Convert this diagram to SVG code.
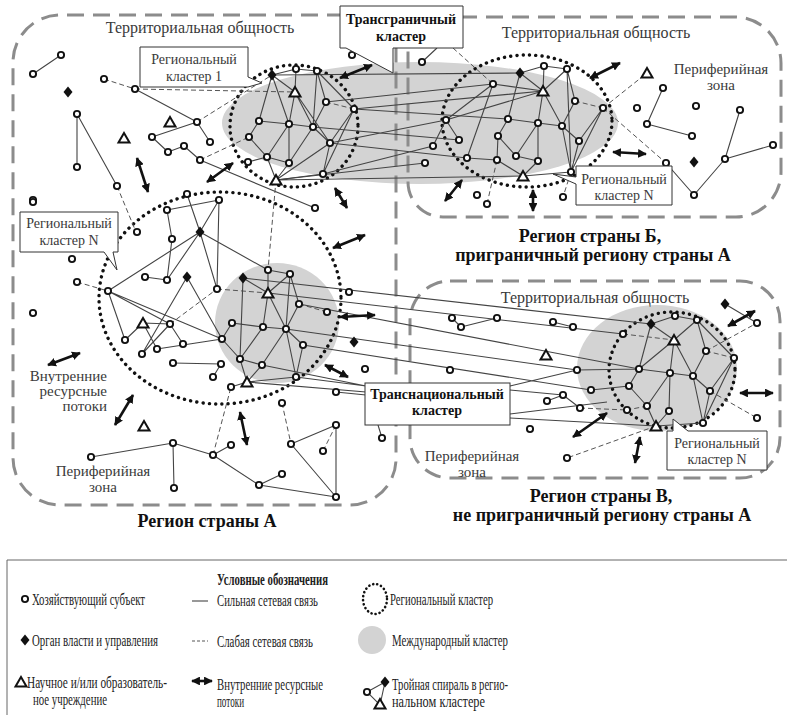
<svg xmlns="http://www.w3.org/2000/svg" width="787" height="715" viewBox="0 0 787 715" font-family="'Liberation Serif', 'Times New Roman', 'DejaVu Serif', serif">
<style>
.grey{fill:#d3d3d3}
.reg{fill:none;stroke:#8c8c8c;stroke-width:3;stroke-dasharray:17 9}
.dot{fill:none;stroke:#111;stroke-width:3.4;stroke-dasharray:0.1 6.2;stroke-linecap:round}
.s{stroke:#444;stroke-width:1.1;fill:none}
.w{stroke:#555;stroke-width:1;stroke-dasharray:5 3;fill:none}
.ar{stroke:#111;stroke-width:2.6;marker-start:url(#ah);marker-end:url(#ah)}
.box{fill:#fff;stroke:#333;stroke-width:1}
.t{font-family:'Liberation Serif','Times New Roman','DejaVu Serif',serif;fill:#3a3a3a}
.b{font-family:'Liberation Serif','Times New Roman','DejaVu Serif',serif;font-weight:bold;fill:#111}
.lg{font-family:'Liberation Serif','Times New Roman','DejaVu Serif',serif;font-size:16px;fill:#222}
</style>
<defs>
<circle id="o" r="3.1" fill="#fff" stroke="#111" stroke-width="1.9"/>
<path id="d" d="M0,-5.5L4.5,0L0,5.5L-4.5,0Z" fill="#111"/>
<path id="t" d="M0,-5L5.5,4.5L-5.5,4.5Z" fill="#fff" stroke="#111" stroke-width="2"/>
<marker id="ah" viewBox="0 0 10 10" refX="9" refY="5" markerWidth="3.4" markerHeight="3.4" orient="auto-start-reverse"><path d="M0,0L10,5L0,10z" fill="#111"/></marker>
</defs>
<rect width="787" height="715" fill="#fff"/>

<g id="areas">
<ellipse class="grey" cx="420" cy="123" rx="198" ry="61"/>
<ellipse class="grey" cx="277" cy="323" rx="62" ry="60"/>
<ellipse class="grey" cx="657" cy="368" rx="80" ry="63"/>
<path class="reg" d="M396,15H60A47,47 0 0 0 13,62V458A47,47 0 0 0 60,505H350A46,46 0 0 0 396,459Z"/>
<path class="reg" d="M408,17H735A46,46 0 0 1 781,63V172A45,45 0 0 1 736,217H443A35,35 0 0 1 408,182Z"/>
<rect class="reg" x="410" y="281" width="370" height="197" rx="40"/>
<ellipse id="cl1" class="dot" cx="294" cy="126" rx="64" ry="61"/>
<ellipse id="clB" class="dot" cx="527" cy="121" rx="85" ry="66"/>
<ellipse id="clN" class="dot" cx="220" cy="298" rx="121" ry="106"/>
<ellipse id="clV" class="dot" cx="672" cy="370" rx="63" ry="58"/>
</g>

<g id="connectors">
<path class="s" d="M33,74L61,55M77,114L77,167M77,114L117,186M135,89L197,122M197,122L210,142M197,122L152,137M152,137L168,152M168,152L184,146M184,146L200,160M200,160L315,208"/>
<path class="w" d="M104,79L135,89M135,89L295,92M197,122L272,75M200,160L249,137M117,186L136,232M276,180L268,270M326,102L354,109"/>
<path class="s" d="M272,75L296,69M272,75L295,92M272,75L259,121M272,75L289,124M296,69L317,71M296,69L295,92M317,71L326,102M317,71L313,127M317,71L354,109M295,92L289,124M295,92L313,127M295,92L330,143M326,102L313,127M354,109L330,143M354,109L323,174M259,121L289,124M259,121L249,137M289,124L313,127M289,124L267,157M289,124L289,163M313,127L330,143M313,127L289,163M249,137L267,157M267,157L289,163M267,157L276,180M289,163L276,180M330,143L323,174M276,180L323,174M276,180L330,143M248,162L267,157"/>
<path class="s" d="M272,75L520,73M326,102L493,84M354,109L543,91M330,143L446,120M313,127L459,140M323,174L433,146M276,180L523,176M276,180L425,163M330,143L467,158M354,109L508,119"/>
<path class="s" d="M520,73L544,66M544,66L567,69M520,73L543,91M520,73L508,119M493,84L543,91M493,84L446,120M493,84L467,158M544,66L543,91M567,69L543,91M567,69L571,172M567,69L575,101M575,101L562,126M603,108L579,141M603,108L571,172M543,91L538,123M543,91L562,126M543,91L446,120M508,119L538,123M508,119L498,136M538,123L562,126M538,123L516,156M562,126L579,141M562,126L571,172M498,136L497,160M498,136L516,156M446,120L459,140M433,146L446,120M516,156L538,161M497,160L523,176M538,161L523,176M579,141L571,172M523,176L571,172M467,158L497,160M538,123L538,161M422,62L437,48"/>
<path class="w" d="M497,160L487,204M571,172L563,197M453,48L493,84M575,101L603,108M603,108L647,73M603,108L666,163"/>
<path class="s" d="M663,88L647,124M647,124L692,136M740,110L725,159M725,159L773,145M725,159L694,195M666,163L694,195"/>
<path class="s" d="M187,194L200,232M219,200L200,232M219,200L217,289M167,210L219,200M167,210L172,239M172,239L167,280M145,277L167,280M200,232L108,291M200,232L167,280M200,232L217,289M200,232L268,270M108,291L125,340M108,291L170,324M108,291L222,339M187,277L142,354M187,277L222,339M143,323L125,340M143,323L170,324M143,323L157,349M170,324L183,344M170,324L142,354M157,349L222,339M173,363L221,364M221,364L213,377"/>
<path class="w" d="M170,324L217,289M217,289L268,293M77,282L108,291"/>
<path class="s" d="M243,278L268,293M243,278L240,359M268,270L268,293M268,270L290,274M290,274L268,293M290,274L286,329M290,274L299,304M268,293L286,329M268,293L263,327M299,304L286,329M232,323L263,327M263,327L286,329M263,327L240,359M286,329L262,365M286,329L303,345M286,329L296,377M303,345L296,377M240,359L247,382M262,365L247,382M240,359L262,365M247,382L296,377M222,339L240,359M222,339L232,323M231,387L247,382"/>
<path class="w" d="M299,304L327,312"/>
<path class="s" d="M243,278L651,324M268,293L623,334M299,304L639,369M286,329L577,370M303,345L591,390M296,377L366,386M247,382L366,392M262,365L366,386M336,392L366,395M510,386L577,370M510,390L563,395M510,414L607,402M510,418L656,426"/>
<path class="s" d="M651,324L675,316M675,316L697,320M651,324L674,340M651,324L639,369M697,320L674,340M697,320L706,351M697,320L734,358M674,340L639,369M674,340L670,373M674,340L693,376M706,351L693,376M734,358L710,391M734,358L703,423M639,369L670,373M639,369L629,386M670,373L693,376M670,373L647,406M670,373L669,411M693,376L710,391M693,376L703,423M629,386L647,406M647,406L656,426M669,411L656,426M710,391L703,423M629,386L591,390M577,370L639,369M656,426L703,423"/>
<path class="w" d="M623,334L674,340M706,351L734,358M580,408L627,410M710,391L757,418M706,351L757,323M656,426L567,458M647,406L627,410"/>
<path class="s" d="M452,318L461,327M461,327L497,318M553,322L573,327M547,401L563,395M563,395L580,408M725,304L757,323"/>
<path class="s" d="M91,457L173,443M173,443L174,488M173,443L213,455M213,455L231,445M213,455L259,485M259,485L282,474M259,485L336,497M291,444L336,425M291,444L336,497M336,425L336,497M382,438L378,425"/>
<path class="w" d="M213,455L231,387M282,403L291,444M336,425L323,451"/>
<g id="flows">
<line class="ar" x1="590" y1="78" x2="620" y2="63"/>
<line class="ar" x1="613" y1="152" x2="646" y2="154"/>
<line class="ar" x1="462" y1="180" x2="445" y2="201"/>
<line class="ar" x1="533" y1="190" x2="533" y2="211"/>
<line class="ar" x1="340" y1="78" x2="372" y2="65"/>
<line class="ar" x1="207" y1="182" x2="233" y2="163"/>
<line class="ar" x1="137" y1="158" x2="148" y2="192"/>
<line class="ar" x1="335" y1="188" x2="347" y2="208"/>
<line class="ar" x1="333" y1="248" x2="365" y2="235"/>
<line class="ar" x1="340" y1="317" x2="375" y2="315"/>
<line class="ar" x1="325" y1="365" x2="348" y2="377"/>
<line class="ar" x1="115" y1="425" x2="133" y2="395"/>
<line class="ar" x1="48" y1="365" x2="80" y2="353"/>
<line class="ar" x1="240" y1="412" x2="247" y2="445"/>
<line class="ar" x1="728" y1="326" x2="755" y2="311"/>
<line class="ar" x1="740" y1="393" x2="773" y2="393"/>
<line class="ar" x1="573" y1="437" x2="607" y2="413"/>
<line class="ar" x1="640" y1="437" x2="635" y2="463"/>
</g>
</g>

<g id="nodes">
<g id="a1"><use href="#o" x="33" y="74"/></g><g id="a2"><use href="#o" x="61" y="55"/></g><g id="a3"><use href="#d" x="68" y="92"/></g><g id="a4"><use href="#o" x="77" y="114"/></g><g id="a5"><use href="#o" x="77" y="167"/></g><g id="a6"><use href="#o" x="117" y="186"/></g><g id="a7"><use href="#t" x="124" y="138"/></g><g id="a8"><use href="#o" x="104" y="79"/></g><g id="a9"><use href="#o" x="135" y="89"/></g><g id="a10"><use href="#t" x="170" y="122"/></g><g id="a11"><use href="#o" x="197" y="122"/></g><g id="a12"><use href="#o" x="210" y="142"/></g><g id="a13"><use href="#o" x="152" y="137"/></g><g id="a14"><use href="#o" x="168" y="152"/></g><g id="a15"><use href="#o" x="184" y="146"/></g><g id="a16"><use href="#o" x="200" y="160"/></g><g id="a17"><use href="#o" x="33" y="200"/></g><g id="a18"><use href="#o" x="352" y="55"/></g>
<g id="c1"><use href="#d" x="272" y="75"/></g><g id="c2"><use href="#o" x="296" y="69"/></g><g id="c3"><use href="#o" x="317" y="71"/></g><g id="c4"><use href="#t" x="295" y="92"/></g><g id="c5"><use href="#o" x="326" y="102"/></g><g id="c6"><use href="#o" x="354" y="109"/></g><g id="c7"><use href="#o" x="259" y="121"/></g><g id="c8"><use href="#o" x="289" y="124"/></g><g id="c9"><use href="#o" x="313" y="127"/></g><g id="c10"><use href="#o" x="249" y="137"/></g><g id="c11"><use href="#o" x="330" y="143"/></g><g id="c12"><use href="#o" x="267" y="157"/></g><g id="c13"><use href="#o" x="289" y="163"/></g><g id="c14"><use href="#o" x="248" y="162"/></g><g id="c15"><use href="#o" x="323" y="174"/></g><g id="c16"><use href="#t" x="276" y="180"/></g>
<g id="b1"><use href="#o" x="422" y="62"/></g><g id="b2"><use href="#d" x="520" y="73"/></g><g id="b3"><use href="#o" x="544" y="66"/></g><g id="b4"><use href="#o" x="567" y="69"/></g><g id="b5"><use href="#o" x="493" y="84"/></g><g id="b6"><use href="#t" x="543" y="91"/></g><g id="b7"><use href="#o" x="575" y="101"/></g><g id="b8"><use href="#o" x="603" y="108"/></g><g id="b9"><use href="#o" x="446" y="120"/></g><g id="b10"><use href="#o" x="508" y="119"/></g><g id="b11"><use href="#o" x="538" y="123"/></g><g id="b12"><use href="#o" x="562" y="126"/></g><g id="b13"><use href="#o" x="459" y="140"/></g><g id="b14"><use href="#o" x="433" y="146"/></g><g id="b15"><use href="#o" x="498" y="136"/></g><g id="b16"><use href="#o" x="579" y="141"/></g><g id="b17"><use href="#o" x="467" y="158"/></g><g id="b18"><use href="#o" x="497" y="160"/></g><g id="b19"><use href="#o" x="516" y="156"/></g><g id="b20"><use href="#o" x="538" y="161"/></g><g id="b21"><use href="#o" x="425" y="163"/></g><g id="b22"><use href="#t" x="523" y="176"/></g><g id="b23"><use href="#o" x="571" y="172"/></g><g id="b24"><use href="#o" x="477" y="195"/></g><g id="b25"><use href="#o" x="487" y="204"/></g><g id="b26"><use href="#o" x="563" y="197"/></g>
<g id="r1"><use href="#t" x="647" y="73"/></g><g id="r2"><use href="#o" x="663" y="88"/></g><g id="r3"><use href="#o" x="637" y="108"/></g><g id="r4"><use href="#o" x="696" y="106"/></g><g id="r5"><use href="#o" x="740" y="110"/></g><g id="r6"><use href="#o" x="647" y="124"/></g><g id="r7"><use href="#o" x="692" y="136"/></g><g id="r8"><use href="#o" x="773" y="145"/></g><g id="r9"><use href="#o" x="725" y="159"/></g><g id="r10"><use href="#d" x="694" y="162"/></g><g id="r11"><use href="#o" x="666" y="163"/></g><g id="r12"><use href="#o" x="694" y="195"/></g>
<g id="n1"><use href="#o" x="187" y="194"/></g><g id="n2"><use href="#o" x="219" y="200"/></g><g id="n3"><use href="#o" x="167" y="210"/></g><g id="n4"><use href="#o" x="137" y="232"/></g><g id="n5"><use href="#d" x="200" y="232"/></g><g id="n6"><use href="#o" x="172" y="239"/></g><g id="n7"><use href="#o" x="145" y="277"/></g><g id="n8"><use href="#o" x="167" y="280"/></g><g id="n9"><use href="#d" x="187" y="277"/></g><g id="n10"><use href="#o" x="217" y="289"/></g><g id="n11"><use href="#o" x="108" y="291"/></g><g id="n12"><use href="#t" x="143" y="323"/></g><g id="n13"><use href="#o" x="170" y="324"/></g><g id="n14"><use href="#o" x="125" y="340"/></g><g id="n15"><use href="#o" x="142" y="354"/></g><g id="n16"><use href="#o" x="157" y="349"/></g><g id="n17"><use href="#o" x="183" y="344"/></g><g id="n18"><use href="#o" x="173" y="363"/></g><g id="n19"><use href="#o" x="222" y="339"/></g><g id="n20"><use href="#o" x="221" y="364"/></g><g id="n21"><use href="#o" x="213" y="377"/></g>
<g id="f1"><use href="#o" x="33" y="202"/></g><g id="f2"><use href="#o" x="72" y="259"/></g><g id="f3"><use href="#o" x="77" y="282"/></g><g id="f4"><use href="#o" x="33" y="313"/></g><g id="f5"><use href="#o" x="315" y="208"/></g><g id="f6"><use href="#o" x="349" y="292"/></g><g id="f7"><use href="#d" x="354" y="342"/></g><g id="f8"><use href="#o" x="365" y="369"/></g>
<g id="g1"><use href="#o" x="268" y="270"/></g><g id="g2"><use href="#o" x="290" y="274"/></g><g id="g3"><use href="#d" x="243" y="278"/></g><g id="g4"><use href="#t" x="268" y="293"/></g><g id="g5"><use href="#o" x="299" y="304"/></g><g id="g6"><use href="#o" x="327" y="312"/></g><g id="g7"><use href="#o" x="232" y="323"/></g><g id="g8"><use href="#o" x="263" y="327"/></g><g id="g9"><use href="#o" x="286" y="329"/></g><g id="g10"><use href="#o" x="303" y="345"/></g><g id="g11"><use href="#o" x="240" y="359"/></g><g id="g12"><use href="#o" x="262" y="365"/></g><g id="g13"><use href="#t" x="247" y="382"/></g><g id="g14"><use href="#o" x="296" y="377"/></g><g id="g15"><use href="#o" x="231" y="387"/></g>
<g id="v1"><use href="#d" x="651" y="324"/></g><g id="v2"><use href="#o" x="675" y="316"/></g><g id="v3"><use href="#o" x="697" y="320"/></g><g id="v4"><use href="#o" x="623" y="334"/></g><g id="v5"><use href="#t" x="674" y="340"/></g><g id="v6"><use href="#o" x="706" y="351"/></g><g id="v7"><use href="#o" x="734" y="358"/></g><g id="v8"><use href="#o" x="577" y="370"/></g><g id="v9"><use href="#o" x="639" y="369"/></g><g id="v10"><use href="#o" x="670" y="373"/></g><g id="v11"><use href="#o" x="693" y="376"/></g><g id="v12"><use href="#o" x="591" y="390"/></g><g id="v13"><use href="#o" x="629" y="386"/></g><g id="v14"><use href="#o" x="710" y="391"/></g><g id="v15"><use href="#o" x="563" y="395"/></g><g id="v16"><use href="#o" x="580" y="408"/></g><g id="v17"><use href="#o" x="647" y="406"/></g><g id="v18"><use href="#o" x="627" y="410"/></g><g id="v19"><use href="#o" x="669" y="411"/></g><g id="v20"><use href="#o" x="703" y="423"/></g><g id="v21"><use href="#t" x="656" y="426"/></g><g id="v22"><use href="#o" x="573" y="327"/></g><g id="v23"><use href="#o" x="547" y="401"/></g>
<g id="w1"><use href="#o" x="452" y="318"/></g><g id="w2"><use href="#o" x="461" y="327"/></g><g id="w3"><use href="#o" x="497" y="318"/></g><g id="w4"><use href="#o" x="553" y="322"/></g><g id="w5"><use href="#t" x="546" y="355"/></g><g id="w6"><use href="#o" x="450" y="370"/></g><g id="w7"><use href="#d" x="725" y="304"/></g><g id="w8"><use href="#o" x="757" y="323"/></g><g id="w9"><use href="#o" x="757" y="418"/></g><g id="w10"><use href="#o" x="530" y="429"/></g><g id="w11"><use href="#o" x="567" y="458"/></g>
<g id="e1"><use href="#t" x="144" y="426"/></g><g id="e2"><use href="#o" x="91" y="457"/></g><g id="e3"><use href="#o" x="173" y="443"/></g><g id="e4"><use href="#o" x="174" y="488"/></g><g id="e5"><use href="#o" x="213" y="455"/></g><g id="e6"><use href="#o" x="231" y="445"/></g><g id="e7"><use href="#o" x="259" y="485"/></g><g id="e8"><use href="#o" x="282" y="474"/></g><g id="e9"><use href="#o" x="336" y="497"/></g><g id="e10"><use href="#o" x="282" y="403"/></g><g id="e11"><use href="#o" x="291" y="444"/></g><g id="e12"><use href="#o" x="336" y="425"/></g><g id="e13"><use href="#o" x="323" y="451"/></g><g id="e14"><use href="#o" x="336" y="392"/></g><g id="e15"><use href="#o" x="382" y="438"/></g>
</g>

<g id="callouts">
<g id="co-transborder"><path class="box" d="M340,6H463V48H393V73L346,48H340Z"/>
<text class="b" font-size="14" text-anchor="middle" x="401" y="24">Трансграничный</text>
<text class="b" font-size="14" text-anchor="middle" x="401" y="41">кластер</text></g>
<g id="co-cl1"><path class="box" d="M140,47H248V77L262,83L248,87H140Z"/>
<text class="t" font-size="14" text-anchor="middle" x="194" y="64">Региональный</text>
<text class="t" font-size="14" text-anchor="middle" x="194" y="81">кластер 1</text></g>
<g id="co-clN"><path class="box" d="M20,212H118V252H113L117,270L104,252H20Z"/>
<text class="t" font-size="14" text-anchor="middle" x="69" y="228">Региональный</text>
<text class="t" font-size="14" text-anchor="middle" x="69" y="245">кластер N</text></g>
<g id="co-clB"><path class="box" d="M576,166H672V205H576V184L553,174L576,177Z"/>
<text class="t" font-size="14" text-anchor="middle" x="624" y="184">Региональный</text>
<text class="t" font-size="14" text-anchor="middle" x="624" y="200">кластер N</text></g>
<g id="co-clV"><path class="box" d="M667,431H673L673,419L688,431H767V470H667Z"/>
<text class="t" font-size="14" text-anchor="middle" x="717" y="448">Региональный</text>
<text class="t" font-size="14" text-anchor="middle" x="717" y="464">кластер N</text></g>
<g id="co-transnat"><rect class="box" x="365" y="383" width="145" height="42"/>
<text class="b" font-size="14" text-anchor="middle" x="437" y="399">Транснациональный</text>
<text class="b" font-size="14" text-anchor="middle" x="437" y="415">кластер</text></g>
</g>

<g id="labels">
<text class="t" font-size="16" text-anchor="middle" x="200" y="33">Территориальная общность</text>
<text class="t" font-size="16" text-anchor="middle" x="596" y="38">Территориальная общность</text>
<text class="t" font-size="16" text-anchor="middle" x="595" y="303">Территориальная общность</text>
<text class="t" font-size="15" text-anchor="middle" x="721" y="74">Периферийная</text>
<text class="t" font-size="15" text-anchor="middle" x="721" y="90">зона</text>
<text class="t" font-size="15" text-anchor="middle" x="103" y="476">Периферийная</text>
<text class="t" font-size="15" text-anchor="middle" x="103" y="492">зона</text>
<text class="t" font-size="15" text-anchor="middle" x="472" y="461">Периферийная</text>
<text class="t" font-size="15" text-anchor="middle" x="472" y="477">зона</text>
<text class="t" font-size="15" text-anchor="end" x="107" y="381">Внутренние</text>
<text class="t" font-size="15" text-anchor="end" x="107" y="396">ресурсные</text>
<text class="t" font-size="15" text-anchor="end" x="107" y="411">потоки</text>
<text class="b" font-size="18" text-anchor="middle" x="207" y="527">Регион страны А</text>
<text class="b" font-size="18" text-anchor="middle" x="590" y="242">Регион страны Б,</text>
<text class="b" font-size="18" text-anchor="middle" x="593" y="261">приграничный региону страны А</text>
<text class="b" font-size="18" text-anchor="middle" x="601" y="502">Регион страны В,</text>
<text class="b" font-size="18" text-anchor="middle" x="602" y="521">не приграничный региону страны А</text>
</g>

<g id="legend">
<path d="M7,715V560H787" fill="none" stroke="#666" stroke-width="1"/>
<text class="lg" font-weight="bold" x="217" y="585" textLength="111" lengthAdjust="spacingAndGlyphs">Условные обозначения</text>
<use href="#o" x="25" y="599"/>
<text class="lg" x="32" y="605" textLength="113" lengthAdjust="spacingAndGlyphs">Хозяйствующий субъект</text>
<line class="s" x1="192" y1="601" x2="208" y2="601"/>
<text class="lg" x="217" y="606" textLength="101" lengthAdjust="spacingAndGlyphs">Сильная сетевая связь</text>
<ellipse class="dot" cx="375" cy="599" rx="12" ry="15" style="stroke-width:2.6;stroke-dasharray:0.1 4"/>
<text class="lg" x="390" y="605" textLength="103" lengthAdjust="spacingAndGlyphs">Региональный кластер</text>
<use href="#d" x="25" y="640"/>
<text class="lg" x="32" y="646" textLength="126" lengthAdjust="spacingAndGlyphs">Орган власти и управления</text>
<line class="w" x1="192" y1="641" x2="208" y2="641" style="stroke-dasharray:3 2"/>
<text class="lg" x="217" y="647" textLength="96" lengthAdjust="spacingAndGlyphs">Слабая сетевая связь</text>
<circle class="grey" cx="372" cy="640" r="14"/>
<text class="lg" x="392" y="646" textLength="116" lengthAdjust="spacingAndGlyphs">Международный кластер</text>
<use href="#t" x="21" y="682"/>
<text class="lg" x="27" y="688" textLength="140" lengthAdjust="spacingAndGlyphs">Научное и/или образователь-</text>
<text class="lg" x="33" y="705" textLength="74" lengthAdjust="spacingAndGlyphs">ное учреждение</text>
<line class="ar" x1="192" y1="681" x2="212" y2="681"/>
<text class="lg" x="217" y="690" textLength="106" lengthAdjust="spacingAndGlyphs">Внутренние ресурсные</text>
<text class="lg" x="217" y="707" textLength="27" lengthAdjust="spacingAndGlyphs">потоки</text>
<path class="s" d="M367,692L385,682L380,705Z"/>
<use href="#o" x="367" y="692"/>
<use href="#d" x="385" y="682"/>
<use href="#t" x="380" y="704"/>
<text class="lg" x="392" y="690" textLength="116" lengthAdjust="spacingAndGlyphs">Тройная спираль в регио-</text>
<text class="lg" x="392" y="707" textLength="93" lengthAdjust="spacingAndGlyphs">нальном кластере</text>
</g>
</svg>
